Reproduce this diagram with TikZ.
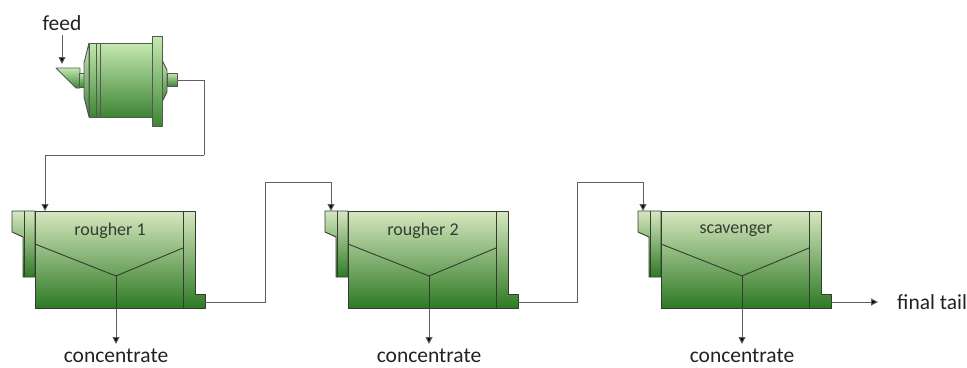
\documentclass[tikz,border=0pt]{standalone}
\usepackage{fontspec}
\setmainfont{Carlito}
\usetikzlibrary{arrows.meta}

\definecolor{lightg}{HTML}{D6E7C0}
\definecolor{darkg}{HTML}{2E7A24}
\definecolor{edge}{HTML}{343C30}
\definecolor{pipe}{HTML}{5E5E5E}
\definecolor{txt}{HTML}{222222}

\tikzset{
  x=1pt, y=-1pt,
  tank/.style={draw=edge, line width=0.9pt, top color=lightg, bottom color=darkg, line join=round},
  drum/.style={draw=edge!85, line width=0.9pt, top color=lightg!92!green, bottom color=darkg!92!white, line join=round},
  innerline/.style={draw=edge, line width=0.9pt},
  flow/.style={draw=pipe, line width=1pt, -{Triangle[width=7pt,length=7pt,fill=black]}},
  pipeline/.style={draw=pipe, line width=1pt},
  lbl/.style={text=txt, font=\fontsize{21.5}{24}\selectfont, inner sep=0pt},
  boxlbl/.style={text=edge, font=\fontsize{18}{21}\selectfont, inner sep=1pt},
  pics/cell/.style={code={
    % back tab with the sloped cut
    \path[tank] (12,211) -- (35,211) -- (35,277) -- (23,277) -- (23,237) -- (12,232) -- cycle;
    \draw[innerline] (24,211) -- (24,277);
    % main trough
    \path[tank] (35,211) rectangle (183,308);
    % discharge end with overflow lip
    \path[tank] (183,211) -- (195,211) -- (195,294) -- (205,294) -- (205,308) -- (183,308) -- cycle;
    % froth collection launder
    \draw[innerline] (35,244) -- (116,276) -- (183,248);
    \draw[innerline] (116,276) -- (116,308);
    \node[boxlbl] (-name) at (110,231) {#1};
    \coordinate (-out) at (205,302);
    \coordinate (-bot) at (116,308);
    \coordinate (-tip) at (116,344);
    \node[lbl, anchor=base] (-conc) at (116,362) {concentrate};
  }}
}

\begin{document}
\begin{tikzpicture}
\useasboundingbox (0,0) rectangle (967,367);

% grinding mill
\path[drum] (56,68) -- (80,68) -- (80,88) -- (76,88) -- cycle;
\path[drum] (79,73) rectangle (85,87);
\path[drum] (89,43) -- (84,63) -- (84,97) -- (89,117) -- cycle;
\path[drum] (89,43) rectangle (152,117);
\path[drum] (96,43) rectangle (100,117);
\path[drum] (162,60) -- (167,70) -- (167,92) -- (162,102) -- cycle;
\path[drum] (152,36) rectangle (162,126);
\path[drum] (167,73) rectangle (177,86);
\coordinate (millout) at (177,80);
\coordinate (millin) at (62,64);

\node[lbl] (feed) at (62,23) {feed};
\draw[flow] (feed.south) ++(0,4) -- (millin);

% flotation cells
\pic (r1) at (0,0) {cell={rougher 1}};
\pic (r2) at (313,0) {cell={rougher 2}};
\pic (sc) at (626,0) {cell={scavenger}};

\coordinate (r1in) at (45,211);
\coordinate (r2in) at (331,211);
\coordinate (scin) at (643,211);
\coordinate (milldrop) at (204,155);
\coordinate (r1rise) at (265,182);
\coordinate (r2rise) at (577,182);

% streams between units
\draw[pipeline] (millout) -| (milldrop);
\draw[flow] (milldrop) -| (r1in);
\draw[pipeline] (r1-out) -| (r1rise);
\draw[flow] (r1rise) -| (r2in);
\draw[pipeline] (r2-out) -| (r2rise);
\draw[flow] (r2rise) -| (scin);

% concentrate streams
\draw[flow] (r1-bot) -- (r1-tip);
\draw[flow] (r2-bot) -- (r2-tip);
\draw[flow] (sc-bot) -- (sc-tip);

% tailings
\node[lbl, anchor=west] (tail) at (897,302) {final tail};
\draw[flow, shorten >=19pt] (sc-out) -- (tail.west);
\end{tikzpicture}
\end{document}
